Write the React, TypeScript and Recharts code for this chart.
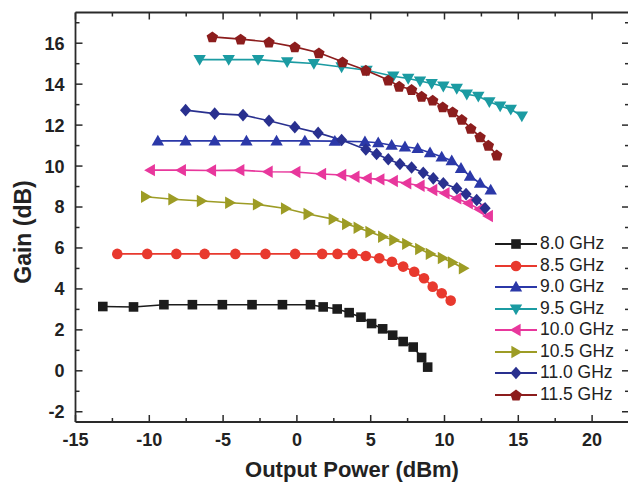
import React from 'react';
import { LineChart, Line, XAxis, YAxis } from 'recharts';

// ---- data (Output Power dBm, Gain dB) ----
const gain80: [number, number][] = [
  [-13.15, 3.14], [-11.07, 3.12], [-9.01, 3.23], [-7.08, 3.23], [-5.05, 3.23], [-3.04, 3.23], [-0.98, 3.23],
  [0.92, 3.23], [1.78, 3.12], [2.73, 3.02], [3.54, 2.84], [4.34, 2.62], [5.06, 2.31], [5.81, 2.05],
  [6.49, 1.74], [7.2, 1.43], [7.88, 1.16], [8.45, 0.65], [8.86, 0.18],
];
const gain85: [number, number][] = [
  [-12.17, 5.71], [-10.14, 5.71], [-8.17, 5.71], [-6.25, 5.71], [-4.17, 5.71], [-2.13, 5.71], [-0.12, 5.71],
  [1.71, 5.71], [2.75, 5.71], [3.77, 5.71], [4.67, 5.61], [5.58, 5.5], [6.44, 5.33], [7.2, 5.09],
  [7.95, 4.84], [8.61, 4.52], [9.2, 4.11], [9.81, 3.79], [10.42, 3.43],
];
const gain90: [number, number][] = [
  [-9.42, 11.23], [-7.54, 11.23], [-5.57, 11.23], [-3.42, 11.23], [-1.38, 11.23], [0.54, 11.23], [2.57, 11.22],
  [4.61, 11.19], [5.51, 11.14], [6.42, 11.02], [7.32, 10.94], [8.18, 10.86], [9.02, 10.65], [9.81, 10.45],
  [10.49, 10.26], [11.12, 9.89], [11.73, 9.51], [12.41, 9.16], [13.13, 8.83],
];
const gain95: [number, number][] = [
  [-6.59, 15.2], [-4.62, 15.2], [-2.63, 15.2], [-0.66, 15.09], [1.15, 15.01], [3.03, 14.84], [4.72, 14.68],
  [6.53, 14.39], [7.54, 14.28], [8.34, 14.15], [9.13, 14.03], [9.92, 13.9], [10.83, 13.79], [11.51, 13.51],
  [12.29, 13.41], [13.04, 13.14], [13.77, 12.93], [14.49, 12.77], [15.24, 12.44],
];
const gain100: [number, number][] = [
  [-9.93, 9.8], [-7.83, 9.8], [-5.79, 9.78], [-3.87, 9.8], [-1.95, 9.72], [-0.07, 9.71], [1.67, 9.61],
  [3.03, 9.56], [3.93, 9.48], [4.76, 9.4], [5.62, 9.35], [6.53, 9.27], [7.44, 9.16], [8.34, 9.04],
  [9.2, 8.83], [10.03, 8.67], [10.83, 8.42], [11.61, 8.18], [12.36, 7.89], [12.97, 7.56],
];
const gain105: [number, number][] = [
  [-10.25, 8.5], [-8.4, 8.38], [-6.47, 8.29], [-4.55, 8.21], [-2.67, 8.13], [-0.77, 7.93], [0.76, 7.66],
  [2.46, 7.41], [3.37, 7.17], [4.15, 6.99], [4.95, 6.78], [5.81, 6.55], [6.57, 6.39], [7.44, 6.2],
  [8.32, 5.95], [9.04, 5.71], [9.86, 5.51], [10.54, 5.29], [11.28, 5.01],
];
const gain110: [number, number][] = [
  [-7.54, 12.73], [-5.57, 12.56], [-3.65, 12.49], [-1.89, 12.21], [-0.14, 11.9], [1.44, 11.62], [3.03, 11.27],
  [4.67, 10.81], [5.4, 10.59], [6.19, 10.33], [6.98, 10.1], [7.77, 9.93], [8.56, 9.67], [9.24, 9.4],
  [9.92, 9.16], [10.83, 8.91], [11.46, 8.63], [12.18, 8.34], [12.75, 7.94],
];
const gain115: [number, number][] = [
  [-5.73, 16.31], [-3.81, 16.2], [-1.89, 16.06], [-0.14, 15.82], [1.49, 15.53], [3.09, 15.09], [4.67, 14.68],
  [6.19, 14.2], [6.93, 13.9], [7.77, 13.74], [8.45, 13.41], [9.2, 13.22], [9.88, 12.89], [10.55, 12.65],
  [11.17, 12.28], [11.78, 11.84], [12.41, 11.43], [12.97, 11.02], [13.54, 10.54],
];

const seriesNames = ['8.0 GHz', '8.5 GHz', '9.0 GHz', '9.5 GHz', '10.0 GHz', '10.5 GHz', '11.0 GHz', '11.5 GHz'];
const seriesData = [gain80, gain85, gain90, gain95, gain100, gain105, gain110, gain115];
const seriesColors = ['#1c1c1c', '#e8392e', '#2b38a8', '#1b9ba2', '#e8379c', '#9d9c25', '#29308f', '#8c1d1d'];
const seriesShapes = ['square', 'circle', 'up', 'down', 'left', 'right', 'diamond', 'pentagon'];

const xTicks = [-15, -12.5, -10, -7.5, -5, -2.5, 0, 2.5, 5, 7.5, 10, 12.5, 15, 17.5, 20, 22.5];
const yTicks = [-2, -1, 0, 1, 2, 3, 4, 5, 6, 7, 8, 9, 10, 11, 12, 13, 14, 15, 16, 17];

const FONT = '"Liberation Sans", Arial, sans-serif';
const AXIS = '#2a2a2a';

function Marker({ cx, cy, shape, color }: { cx: number; cy: number; shape: string; color: string }) {
  if (cx == null || cy == null || isNaN(cx) || isNaN(cy)) return null;
  const s = 5.5;
  switch (shape) {
    case 'square':
      return <rect x={cx - 4.8} y={cy - 4.8} width={9.6} height={9.6} fill={color} />;
    case 'circle':
      return <circle cx={cx} cy={cy} r={5.3} fill={color} />;
    case 'up':
      return <path d={`M${cx},${cy - 6.2} L${cx + 6.2},${cy + 4.6} L${cx - 6.2},${cy + 4.6}Z`} fill={color} />;
    case 'down':
      return <path d={`M${cx},${cy + 6.2} L${cx + 6.2},${cy - 4.6} L${cx - 6.2},${cy - 4.6}Z`} fill={color} />;
    case 'left':
      return <path d={`M${cx - 6.2},${cy} L${cx + 4.6},${cy - 6.2} L${cx + 4.6},${cy + 6.2}Z`} fill={color} />;
    case 'right':
      return <path d={`M${cx + 6.2},${cy} L${cx - 4.6},${cy - 6.2} L${cx - 4.6},${cy + 6.2}Z`} fill={color} />;
    case 'diamond':
      return <path d={`M${cx},${cy - 6.3} L${cx + 5.6},${cy} L${cx},${cy + 6.3} L${cx - 5.6},${cy}Z`} fill={color} />;
    default: {
      const pts: string[] = [];
      for (let i = 0; i < 5; i++) {
        const a = -Math.PI / 2 + (i * 2 * Math.PI) / 5;
        pts.push(`${cx + (s + 0.5) * Math.cos(a)},${cy + (s + 0.5) * Math.sin(a) + 0.6}`);
      }
      return <polygon points={pts.join(' ')} fill={color} />;
    }
  }
}

const isMajorX = (v: number) => Math.abs(v % 5) < 1e-6;
const isMajorY = (v: number) => Math.abs(v % 2) < 1e-6;

const BottomTick = (p: any) => {
  const v = p.payload.value;
  const major = isMajorX(v);
  return (
    <g>
      <line x1={p.x} x2={p.x} y1={p.y} y2={p.y - (major ? 7 : 4)} stroke={AXIS} strokeWidth={1.5} />
      {major && (
        <text x={p.x} y={p.y + 24} textAnchor="middle" fontFamily={FONT} fontWeight="bold" fontSize={18} fill="#222">
          {v}
        </text>
      )}
    </g>
  );
};
const TopTick = (p: any) => {
  const major = isMajorX(p.payload.value);
  return <line x1={p.x} x2={p.x} y1={p.y} y2={p.y + (major ? 7 : 4)} stroke={AXIS} strokeWidth={1.5} />;
};
const LeftTick = (p: any) => {
  const v = p.payload.value;
  const major = isMajorY(v);
  return (
    <g>
      <line x1={p.x} x2={p.x + (major ? 7 : 4)} y1={p.y} y2={p.y} stroke={AXIS} strokeWidth={1.5} />
      {major && (
        <text x={p.x - 11} y={p.y} dy="0.36em" textAnchor="end" fontFamily={FONT} fontWeight="bold" fontSize={18} fill="#222">
          {v}
        </text>
      )}
    </g>
  );
};
const RightTick = (p: any) => {
  const major = isMajorY(p.payload.value);
  return <line x1={p.x} x2={p.x - (major ? 7 : 4)} y1={p.y} y2={p.y} stroke={AXIS} strokeWidth={1.5} />;
};

const toPoints = (arr: [number, number][]) => arr.map(([x, y]) => ({ x, y }));

export default function App() {
  return (
    <div style={{ position: 'absolute', left: 0, top: 0, width: 628, height: 495, overflow: 'hidden', background: '#fff' }}>
      <LineChart width={640} height={495} margin={{ top: 2.5, right: 1, bottom: 43, left: 15.5 }}>
        <XAxis
          xAxisId="b"
          dataKey="x"
          type="number"
          domain={[-15, 22.5]}
          ticks={xTicks}
          interval={0}
          allowDataOverflow
          height={30}
          tickSize={0}
          tickMargin={0}
          tickLine={false}
          axisLine={{ stroke: AXIS, strokeWidth: 1.8 }}
          tick={BottomTick}
          label={{
            content: () => (
              <text x={352} y={477} textAnchor="middle" fontFamily={FONT} fontWeight="bold" fontSize={22} fill="#222">
                Output Power (dBm)
              </text>
            ),
          }}
        />
        <XAxis
          xAxisId="t"
          orientation="top"
          dataKey="x"
          type="number"
          domain={[-15, 22.5]}
          ticks={xTicks}
          interval={0}
          allowDataOverflow
          height={10}
          tickSize={0}
          tickMargin={0}
          tickLine={false}
          axisLine={{ stroke: AXIS, strokeWidth: 1.8 }}
          tick={TopTick}
        />
        <YAxis
          yAxisId="l"
          type="number"
          domain={[-2.5, 17.5]}
          ticks={yTicks}
          interval={0}
          allowDataOverflow
          width={60}
          tickSize={0}
          tickMargin={0}
          tickLine={false}
          axisLine={{ stroke: AXIS, strokeWidth: 1.8 }}
          tick={LeftTick}
          label={{
            content: () => (
              <text
                x={23}
                y={232}
                transform="rotate(-90 23 232)"
                textAnchor="middle"
                dy="0.36em"
                fontFamily={FONT}
                fontWeight="bold"
                fontSize={23}
                fill="#222"
              >
                Gain (dB)
              </text>
            ),
          }}
        />
        <YAxis
          yAxisId="r"
          orientation="right"
          type="number"
          domain={[-2.5, 17.5]}
          ticks={yTicks}
          interval={0}
          allowDataOverflow
          width={10}
          tickSize={0}
          tickMargin={0}
          tickLine={false}
          axisLine={{ stroke: AXIS, strokeWidth: 1.8 }}
          tick={RightTick}
        />
        {seriesData.map((d, i) => (
          <Line
            key={seriesNames[i]}
            xAxisId="b"
            yAxisId="l"
            data={toPoints(d)}
            dataKey="y"
            name={seriesNames[i]}
            type="linear"
            stroke={seriesColors[i]}
            strokeWidth={1.6}
            isAnimationActive={false}
            dot={(p: any) => (
              <Marker key={`${i}-${p.index}`} cx={p.cx} cy={p.cy} shape={seriesShapes[i]} color={seriesColors[i]} />
            )}
            activeDot={false}
          />
        ))}
      </LineChart>
      <div style={{ position: 'absolute', left: 494, top: 233.25, fontFamily: FONT }}>
        {seriesNames.map((n, i) => (
          <div key={n} style={{ height: 21.5, display: 'flex', alignItems: 'center' }}>
            <svg width={44} height={18} style={{ display: 'block' }}>
              <line x1={1} x2={43} y1={9} y2={9} stroke={seriesColors[i]} strokeWidth={1.8} />
              <Marker cx={22} cy={9} shape={seriesShapes[i]} color={seriesColors[i]} />
            </svg>
            <span style={{ fontSize: 17.5, color: '#222', marginLeft: 2, lineHeight: '21.5px', whiteSpace: 'nowrap' }}>{n}</span>
          </div>
        ))}
      </div>
    </div>
  );
}
